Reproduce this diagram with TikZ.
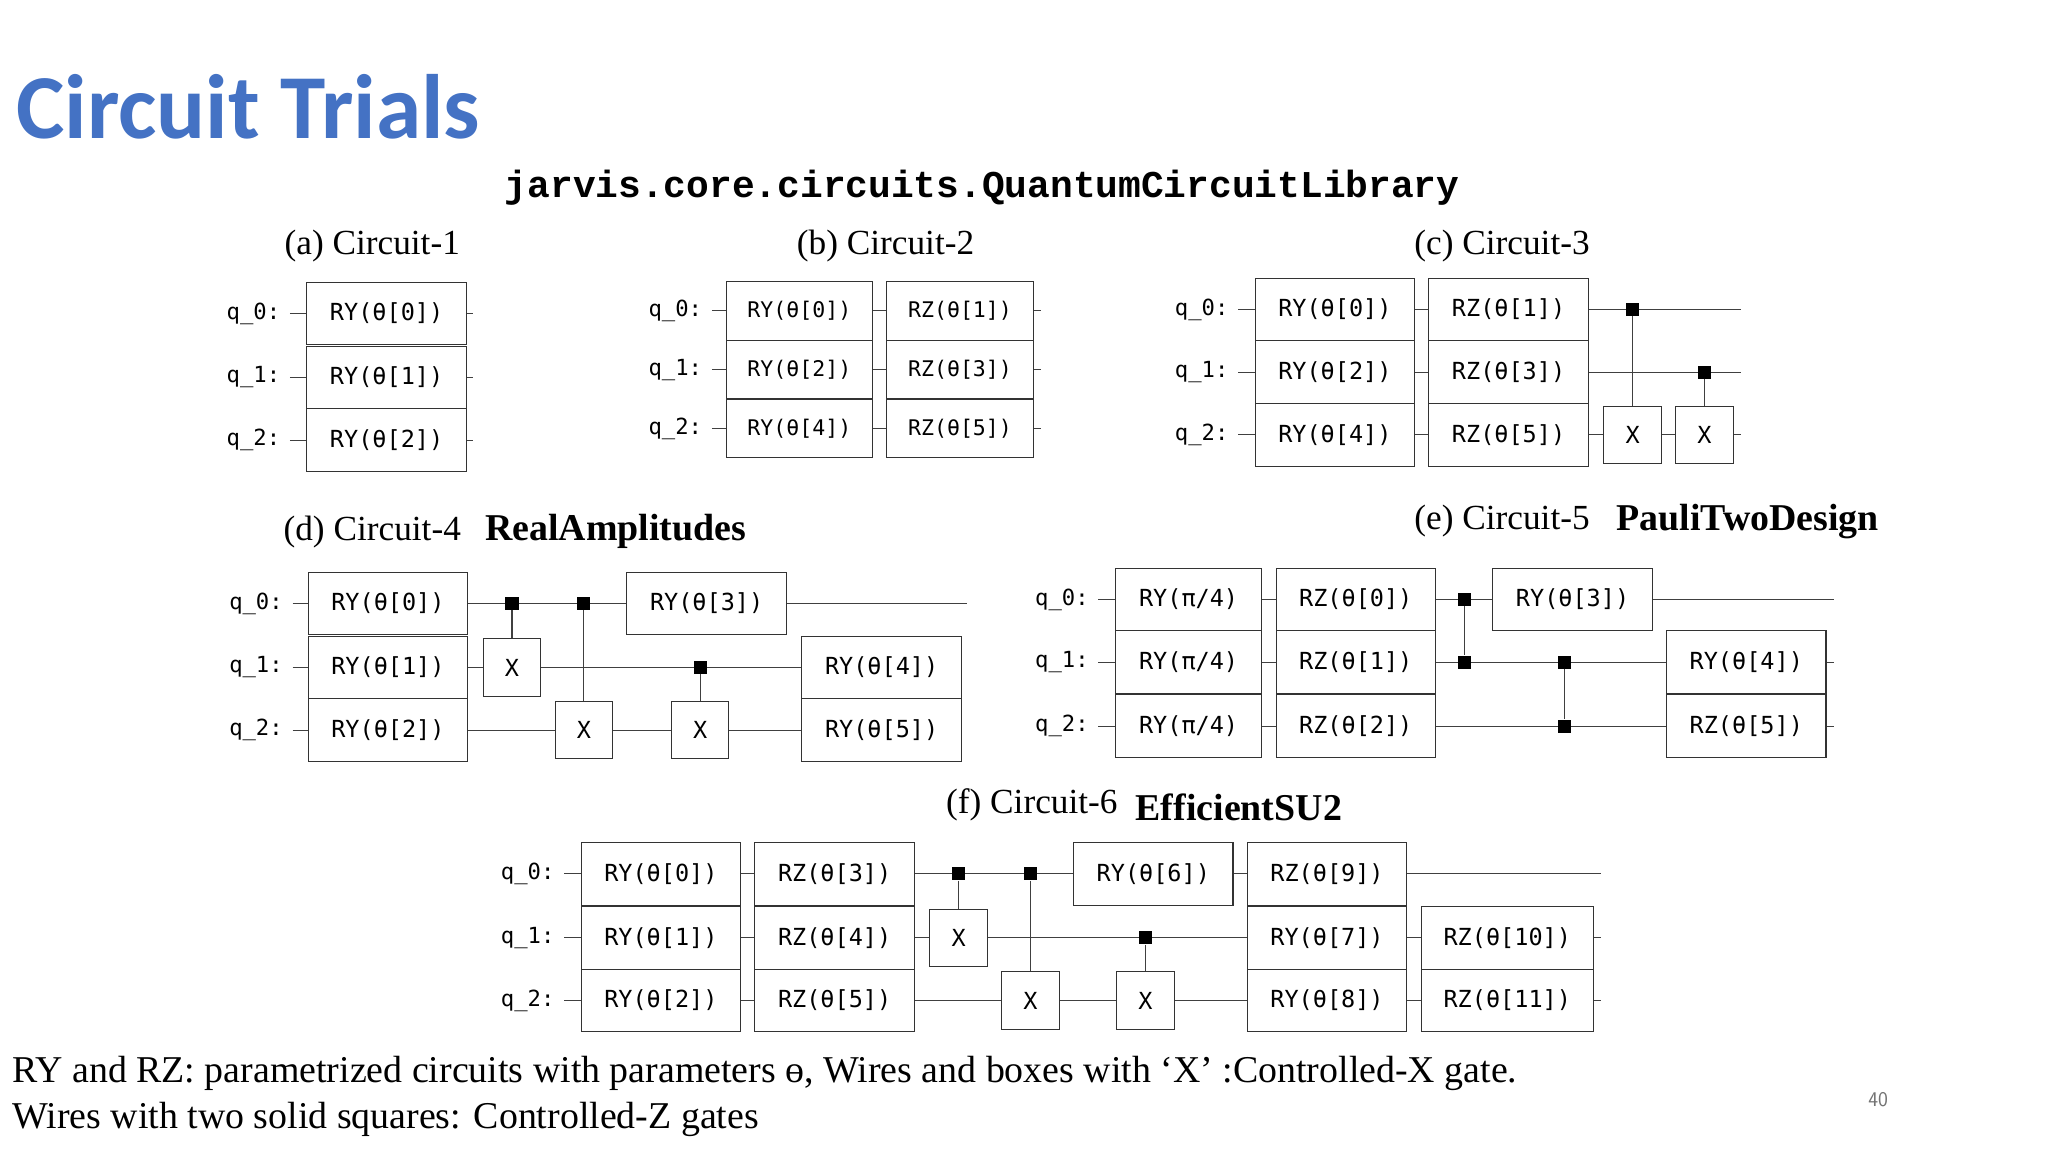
\documentclass[tikz,border=0pt]{standalone}
\usepackage{fontspec}
\setmainfont{Liberation Serif}
\newfontfamily\gatefam{DejaVu Sans Mono}
\newfontfamily\headfam{Liberation Mono}
\newfontfamily\titlefam{Carlito}
\definecolor{slideblue}{HTML}{4472C4}
\tikzset{
  wire/.style={line width=0.8pt, black!75},
  gate/.style={draw=black!80, fill=white, line width=0.8pt, minimum width=122, minimum height=48,
    inner sep=0pt, font=\gatefam\fontsize{18}{20}\selectfont},
  narrow/.style={gate, minimum width=112, minimum height=45, font=\gatefam\fontsize{16.5}{18}\selectfont},
  xg/.style={gate, minimum width=44, minimum height=44},
  ctrl/.style={fill=black, minimum size=10pt, inner sep=0pt},
  qlab/.style={anchor=east, font=\gatefam\fontsize{17}{19}\selectfont},
  subcap/.style={font=\fontsize{27}{30}\selectfont},
  subcapb/.style={font=\bfseries\fontsize{29}{31}\selectfont},
  notes/.style={anchor=west, font=\fontsize{29}{31}\selectfont},
  link/.style={line width=0.8pt, black!75}
}
\begin{document}
\begin{tikzpicture}[x=1pt, y=-1pt]
    \useasboundingbox (0,0) rectangle (1568,882);

    % Title and header
    \node[anchor=west, text=slideblue, font=\titlefam\bfseries\fontsize{70}{72}\selectfont] (title) at (9,82) {Circuit Trials};
    \node[font=\headfam\bfseries\fontsize{29}{31}\selectfont] (head) at (752,144) {jarvis.core.circuits.QuantumCircuitLibrary};

    % (a) Circuit-1
    \node[subcap] (capa) at (285,188) {(a) Circuit-1};
    \foreach \r/\y in {0/240,1/289,2/337} {
        \node[qlab] (aq\r) at (218,\y) {q\_\r:};
        \coordinate (ae\r) at (362,\y);
        \draw[wire] ([xshift=4pt]aq\r.east) -- (ae\r);
        \node[gate] (ag\r) at (296,\y) {RY(θ[\r])};
    }

    % (b) Circuit-2
    \node[subcap] (capb) at (678,188) {(b) Circuit-2};
    \foreach \r/\y/\a/\b in {0/238/0/1,1/283/2/3,2/328/4/5} {
        \node[qlab] (bq\r) at (541,\y) {q\_\r:};
        \coordinate (be\r) at (797,\y);
        \draw[wire] ([xshift=4pt]bq\r.east) -- (be\r);
        \node[narrow] (bg\r) at (612,\y) {RY(θ[\a])};
        \node[narrow] (bh\r) at (735,\y) {RZ(θ[\b])};
    }

    % (c) Circuit-3
    \node[subcap] (capc) at (1150,188) {(c) Circuit-3};
    \foreach \r/\y/\a/\b in {0/237/0/1,1/285/2/3,2/333/4/5} {
        \node[qlab] (cq\r) at (944,\y) {q\_\r:};
        \coordinate (ce\r) at (1333,\y);
        \draw[wire] ([xshift=4pt]cq\r.east) -- (ce\r);
        \node[gate] (cg\r) at (1022,\y) {RY(θ[\a])};
        \node[gate] (ch\r) at (1155,\y) {RZ(θ[\b])};
    }
    \node[ctrl] (cc1) at (1250,237) {};
    \node[xg] (cx1) at (1250,333) {X};
    \draw[link] (cc1) -- (cx1);
    \node[ctrl] (cc2) at (1305,285) {};
    \node[xg] (cx2) at (1305,333) {X};
    \draw[link] (cc2) -- (cx2);

    % (d) Circuit-4 RealAmplitudes
    \node[subcap] (capd) at (285,407) {(d) Circuit-4};
    \node[subcapb, anchor=west] (named) at (368,407) {RealAmplitudes};
    \foreach \r/\y/\e in {0/462/740,1/511/736,2/559/736} {
        \node[qlab] (dq\r) at (220,\y) {q\_\r:};
        \coordinate (de\r) at (\e,\y);
        \draw[wire] ([xshift=4pt]dq\r.east) -- (de\r);
        \node[gate] (dg\r) at (297,\y) {RY(θ[\r])};
    }
    \node[gate] (dh0) at (541,462) {RY(θ[3])};
    \node[gate] (dh1) at (675,511) {RY(θ[4])};
    \node[gate] (dh2) at (675,559) {RY(θ[5])};
    \node[ctrl] (dc1) at (392,462) {};
    \node[xg] (dx1) at (392,511) {X};
    \draw[link] (dc1) -- (dx1);
    \node[ctrl] (dc2) at (447,462) {};
    \node[xg] (dx2) at (447,559) {X};
    \draw[link] (dc2) -- (dx2);
    \node[ctrl] (dc3) at (536,511) {};
    \node[xg] (dx3) at (536,559) {X};
    \draw[link] (dc3) -- (dx3);

    % (e) Circuit-5 PauliTwoDesign
    \node[subcap] (cape) at (1150,399) {(e) Circuit-5};
    \node[subcapb, anchor=west] (namee) at (1234,399) {PauliTwoDesign};
    \foreach \r/\y/\e in {0/459/1404,1/507/1404,2/556/1404} {
        \node[qlab] (eq\r) at (837,\y) {q\_\r:};
        \coordinate (ee\r) at (\e,\y);
        \draw[wire] ([xshift=4pt]eq\r.east) -- (ee\r);
        \node[gate, minimum width=112] (eg\r) at (910,\y) {RY(π/4)};
        \node[gate] (eh\r) at (1038,\y) {RZ(θ[\r])};
    }
    \node[gate] (ei0) at (1204,459) {RY(θ[3])};
    \node[gate] (ei1) at (1337,507) {RY(θ[4])};
    \node[gate] (ei2) at (1337,556) {RZ(θ[5])};
    \node[ctrl] (ez1) at (1121,459) {};
    \node[ctrl] (ez2) at (1121,507) {};
    \draw[link] (ez1) -- (ez2);
    \node[ctrl] (ez3) at (1198,507) {};
    \node[ctrl] (ez4) at (1198,556) {};
    \draw[link] (ez3) -- (ez4);

    % (f) Circuit-6 EfficientSU2
    \node[subcap] (capf) at (790,616) {(f) Circuit-6};
    \node[subcapb, anchor=west] (namef) at (866,618) {EfficientSU2};
    \foreach \r/\y/\a/\b/\e in {0/669/0/3/1226,1/718/1/4/1226,2/766/2/5/1226} {
        \node[qlab] (fq\r) at (428,\y) {q\_\r:};
        \coordinate (fe\r) at (\e,\y);
        \draw[wire] ([xshift=4pt]fq\r.east) -- (fe\r);
        \node[gate] (fg\r) at (506,\y) {RY(θ[\a])};
        \node[gate] (fh\r) at (639,\y) {RZ(θ[\b])};
    }
    \node[gate] (fi0) at (883,669) {RY(θ[6])};
    \node[gate] (fj0) at (1016,669) {RZ(θ[9])};
    \node[gate] (fj1) at (1016,718) {RY(θ[7])};
    \node[gate] (fj2) at (1016,766) {RY(θ[8])};
    \node[gate, minimum width=132] (fk1) at (1154,718) {RZ(θ[10])};
    \node[gate, minimum width=132] (fk2) at (1154,766) {RZ(θ[11])};
    \node[ctrl] (fc1) at (734,669) {};
    \node[xg] (fx1) at (734,718) {X};
    \draw[link] (fc1) -- (fx1);
    \node[ctrl] (fc2) at (789,669) {};
    \node[xg] (fx2) at (789,766) {X};
    \draw[link] (fc2) -- (fx2);
    \node[ctrl] (fc3) at (877,718) {};
    \node[xg] (fx3) at (877,766) {X};
    \draw[link] (fc3) -- (fx3);

    % Notes
    \node[notes] (note1) at (6,822) {RY and RZ: parametrized circuits with parameters ɵ, Wires and boxes with ‘X’ :Controlled-X gate.};
    \node[notes] (note2) at (6,857) {Wires with two solid squares: Controlled-Z gates};
    \node[text=black!55, font=\sffamily\fontsize{16}{18}\selectfont] (page) at (1438,842) {40};
\end{tikzpicture}
\end{document}
